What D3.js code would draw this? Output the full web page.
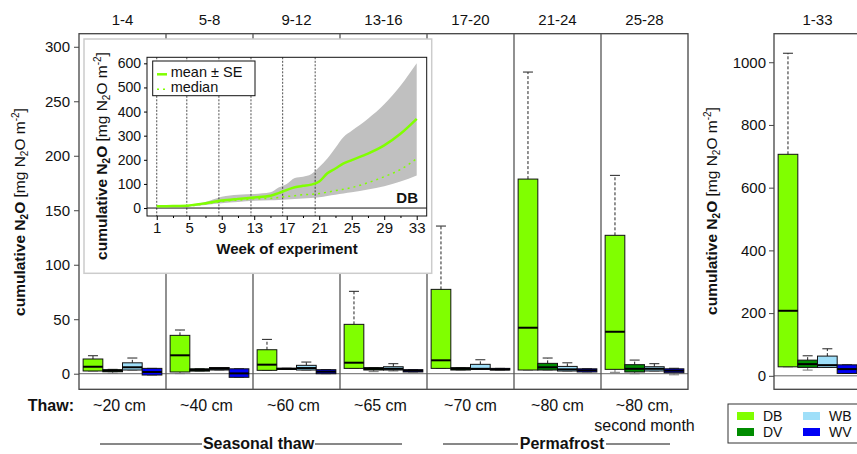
<!DOCTYPE html>
<html>
<head>
<meta charset="utf-8">
<script src="https://cdn.jsdelivr.net/npm/d3@7"></script>
<style>
  body { margin: 0; background: white; }
  text { font-family: "Liberation Sans", Arial, sans-serif; fill: #111; }
</style>
</head>
<body>
<div id="chart"></div>
<script>
// periods (weeks) and thaw depth
var periods = ["1-4", "5-8", "9-12", "13-16", "17-20", "21-24", "25-28"];
var thawLabels = [["~20 cm"], ["~40 cm"], ["~60 cm"], ["~65 cm"], ["~70 cm"], ["~80 cm"], ["~80 cm,", "second month"]];
var groups = ["DB", "DV", "WB", "WV"];

// box stats per period: [low whisker, q1, median, q3, high whisker]
var dbBoxes = [[2.5, 2.5, 6.4, 13.5, 16.5], [0.1, 1.6, 16.9, 35.2, 40.1], [3.1, 3.1, 8.3, 22, 31.5], [4.9, 4.9, 10.1, 45.3, 75.6],
               [4.9, 4.9, 12.3, 77.4, 135.5], [3.4, 3.4, 42.2, 178.6, 276.8], [1.3, 4, 38.5, 127, 182]];
var dvBoxes = [[0.4, 1.8, 2.8, 3.7, 4], [2.4, 2.4, 3.5, 4.5, 4.5], [4, 4, 4.5, 5, 5], [1.9, 3.4, 4.5, 5.6, 5.6],
               [3.4, 3.4, 4.5, 5.6, 5.6], [3.4, 3.4, 5.9, 9.5, 14.4], [0, 1.6, 4.5, 8.3, 12.5]];
var wbBoxes = [[3.4, 3.4, 5.9, 10, 14.4], [3.4, 3.4, 4.5, 5.7, 5.7], [3.4, 3.4, 5.2, 7.7, 10.7], [2.5, 3.4, 4.5, 6.4, 9.2],
               [4, 4, 4.5, 8.6, 12.8], [2.5, 2.5, 4, 6.7, 10], [2.5, 2.5, 4.5, 6.4, 9.2]];
var wvBoxes = [[-1.2, -1.2, 1.6, 4.9, 4.9], [-3.3, -3.3, 0.3, 4.5, 4.5], [0, 0, 1.9, 3.7, 3.7], [1.6, 1.6, 2.8, 3.7, 3.7],
               [3.4, 3.4, 4, 4.9, 4.9], [1.6, 1.6, 3.1, 4.5, 4.5], [-1, 0.9, 2.8, 4.5, 5]];
// whole experiment, weeks 1-33
var totalPeriod = "1-33";
var totalBoxes = [[28.7, 28.7, 207.4, 706.4, 1028.7], [18.2, 26.8, 37.3, 50, 63.8], [26.8, 26.8, 34, 62.9, 86.2], [7.6, 7.6, 21.4, 35, 35]];

var mainTicks = [0, 50, 100, 150, 200, 250, 300];
var totalTicks = [0, 200, 400, 600, 800, 1000];

// inset: DB time series
var weeks =    [1, 3, 5, 7, 9, 11, 13, 15, 16, 17, 18, 19, 20, 21, 22, 23, 24, 25, 27, 29, 31, 33];
var dbMean =   [7, 8, 11, 20, 31, 38, 44, 51, 62, 75, 86, 92, 97, 110, 144, 164, 185, 199, 226, 260, 308, 370];
var dbUpper =  [8, 10, 13, 25, 47, 55, 58, 65, 85, 100, 125, 130, 140, 170, 205, 250, 295, 320, 370, 430, 507, 600];
var dbLower =  [5, 6, 7, 13, 20, 25, 30, 32, 33, 35, 38, 40, 42, 45, 50, 55, 60, 65, 77, 90, 110, 135];
var dbMedian = [7, 8, 9, 18, 27, 33, 38, 40, 44, 48, 51, 55, 57, 60, 66, 72, 78, 85, 105, 130, 160, 205];
var periodStarts = [1, 4.7, 8.65, 12.6, 16.5, 20.5];
var weekTicks = [1, 5, 9, 13, 17, 21, 25, 29, 33];
var weekMinor = [3, 7, 11, 15, 19, 23, 27, 31];
var insetTicks = [0, 100, 200, 300, 400, 500, 600];

var colors = { DB: "#80ff00", DV: "#008c00", WB: "#9fdff9", WV: "#0000f5" };

var svg = d3.select("#chart").append("svg")
  .attr("width", 857)
  .attr("height", 454)
  .style("background", "white");

var plotTop = 33.7, plotBottom = 389.3;

var x = d3.scaleBand().domain(periods).range([79, 688]);
var xg = d3.scaleBand().domain(groups).range([0, x.bandwidth()]).paddingOuter(0.21);
var y = d3.scaleLinear().domain([-14.3, 312]).range([plotBottom, plotTop]);

var xt = d3.scaleBand().domain([totalPeriod]).range([774, 861]);
var yt = d3.scaleLinear().domain([-43, 1091]).range([plotBottom, plotTop]);

function drawBoxes(g, scaleX, scaleY, period, stats) {
  stats.forEach(function (s, i) {
    var grp = groups[i];
    var x0 = scaleX(period) + xg(grp), w = xg.bandwidth(), cx = x0 + w / 2;
    var b = g.append("g");
    // whiskers
    b.append("line").attr("x1", cx).attr("x2", cx).attr("y1", scaleY(s[3])).attr("y2", scaleY(s[4]))
      .attr("stroke", "#222").attr("stroke-dasharray", "3,2");
    b.append("line").attr("x1", cx).attr("x2", cx).attr("y1", scaleY(s[1])).attr("y2", scaleY(s[0]))
      .attr("stroke", "#777").attr("stroke-dasharray", "3,2");
    b.append("line").attr("x1", cx - 5).attr("x2", cx + 5).attr("y1", scaleY(s[4])).attr("y2", scaleY(s[4]))
      .attr("stroke", "#222");
    b.append("line").attr("x1", cx - 5).attr("x2", cx + 5).attr("y1", scaleY(s[0])).attr("y2", scaleY(s[0]))
      .attr("stroke", "#777");
    b.append("rect").attr("x", x0).attr("width", w)
      .attr("y", scaleY(s[3])).attr("height", Math.max(1, scaleY(s[1]) - scaleY(s[3])))
      .attr("fill", colors[grp]).attr("stroke", "#111").attr("stroke-width", 1);
    b.append("line").attr("x1", x0).attr("x2", x0 + w).attr("y1", scaleY(s[2])).attr("y2", scaleY(s[2]))
      .attr("stroke", "#000").attr("stroke-width", 2);
  });
}

function yLabel(g, tx, ty) {
  var t = g.append("text")
    .attr("transform", "translate(" + tx + "," + ty + ") rotate(-90)")
    .attr("text-anchor", "middle")
    .style("font-size", "15.5px");
  t.append("tspan").attr("font-weight", "bold").text("cumulative N");
  t.append("tspan").attr("font-weight", "bold").attr("dy", 3).style("font-size", "10px").text("2");
  t.append("tspan").attr("font-weight", "bold").attr("dy", -3).text("O");
  t.append("tspan").text(" [mg N");
  t.append("tspan").attr("dy", 3).style("font-size", "10px").text("2");
  t.append("tspan").attr("dy", -3).text("O m");
  t.append("tspan").attr("dy", -6).style("font-size", "10px").text("-2");
  t.append("tspan").attr("dy", 6).text("]");
}

// ---- main panel ----
var main = svg.append("g");

main.append("line").attr("x1", 79).attr("x2", 688).attr("y1", y(0)).attr("y2", y(0))
  .attr("stroke", "#666");

periods.forEach(function (p, i) {
  drawBoxes(main, x, y, p, [dbBoxes[i], dvBoxes[i], wbBoxes[i], wvBoxes[i]]);
});

main.append("rect").attr("x", 79).attr("y", plotTop).attr("width", 609).attr("height", plotBottom - plotTop)
  .attr("fill", "none").attr("stroke", "#444").attr("stroke-width", 1.3);
main.selectAll(".div").data(periods.slice(1)).enter().append("line")
  .attr("x1", function (d) { return x(d); }).attr("x2", function (d) { return x(d); })
  .attr("y1", plotTop).attr("y2", plotBottom)
  .attr("stroke", "#555").attr("stroke-width", 1.3);

var ax = main.append("g").attr("transform", "translate(79,0)")
  .call(d3.axisLeft(y).tickValues(mainTicks).tickSize(5).tickPadding(4));
ax.select(".domain").remove();
ax.selectAll("text").style("font-size", "15px");
ax.selectAll("line").attr("stroke", "#444");

main.selectAll(".ptitle").data(periods).enter().append("text")
  .attr("x", function (d) { return x(d) + x.bandwidth() / 2; })
  .attr("y", 25)
  .attr("text-anchor", "middle")
  .style("font-size", "15px")
  .text(function (d) { return d; });

yLabel(main, 25, 212);

// thaw depths
main.append("text").attr("x", 74).attr("y", 411).attr("text-anchor", "end")
  .attr("font-weight", "bold").style("font-size", "16px").text("Thaw:");
periods.forEach(function (p, i) {
  thawLabels[i].forEach(function (line, j) {
    main.append("text")
      .attr("x", x(p) + x.bandwidth() / 2 - (i < 4 ? 3 : 0))
      .attr("y", 411 + j * 19.5)
      .attr("text-anchor", "middle")
      .style("font-size", "16px")
      .text(line);
  });
});

function bracket(label, x1, x2, tx1, tx2, tc) {
  main.append("line").attr("x1", x1).attr("x2", tx1).attr("y1", 444).attr("y2", 444).attr("stroke", "#111");
  main.append("line").attr("x1", tx2).attr("x2", x2).attr("y1", 444).attr("y2", 444).attr("stroke", "#111");
  main.append("text").attr("x", tc).attr("y", 449).attr("text-anchor", "middle")
    .attr("font-weight", "bold").style("font-size", "16px").text(label);
}
bracket("Seasonal thaw", 100, 402, 202, 315, 258.5);
bracket("Permafrost", 443, 670, 518, 606, 562);

// ---- right panel, total ----
var tot = svg.append("g");
tot.append("line").attr("x1", 774).attr("x2", 861).attr("y1", yt(0)).attr("y2", yt(0)).attr("stroke", "#666");
drawBoxes(tot, xt, yt, totalPeriod, totalBoxes);
tot.append("rect").attr("x", 774).attr("y", plotTop).attr("width", 87).attr("height", plotBottom - plotTop)
  .attr("fill", "none").attr("stroke", "#444").attr("stroke-width", 1.3);
var axt = tot.append("g").attr("transform", "translate(774,0)")
  .call(d3.axisLeft(yt).tickValues(totalTicks).tickSize(5).tickPadding(3).tickFormat(d3.format("d")));
axt.select(".domain").remove();
axt.selectAll("text").style("font-size", "15px");
axt.selectAll("line").attr("stroke", "#444");
tot.append("text").attr("x", xt(totalPeriod) + xt.bandwidth() / 2).attr("y", 25)
  .attr("text-anchor", "middle").style("font-size", "15px").text(totalPeriod);
yLabel(tot, 717, 211);

// legend
var leg = svg.append("g");
leg.append("rect").attr("x", 728).attr("y", 404).attr("width", 140).attr("height", 39)
  .attr("fill", "white").attr("stroke", "#333");
groups.forEach(function (g, i) {
  var lx = 737 + Math.floor(i / 2) * 66, ly = 412 + (i % 2) * 16;
  leg.append("rect").attr("x", lx).attr("y", ly).attr("width", 17).attr("height", 8).attr("fill", colors[g]);
  leg.append("text").attr("x", lx + 26).attr("y", ly + 9).style("font-size", "14px").text(g);
});

// ---- inset ----
var inset = svg.append("g");
inset.append("rect").attr("x", 84).attr("y", 39).attr("width", 347.7).attr("height", 234.3)
  .attr("fill", "white").attr("stroke", "#ccc").attr("stroke-width", 1.5);

var ix = d3.scaleLinear().domain([-0.2, 34.23]).range([147, 426.7]);
var iy = d3.scaleLinear().domain([-33, 625]).range([216, 57.3]);

var series = weeks.map(function (w, i) {
  return { w: w, mean: dbMean[i], up: dbUpper[i], lo: dbLower[i], med: dbMedian[i] };
});

inset.append("path").datum(series)
  .attr("fill", "#c0c0c0")
  .attr("d", d3.area().curve(d3.curveMonotoneX)
    .x(function (d) { return ix(d.w); })
    .y0(function (d) { return iy(d.lo); })
    .y1(function (d) { return iy(d.up); }));

inset.selectAll(".pstart").data(periodStarts).enter().append("line")
  .attr("x1", function (d) { return ix(d); }).attr("x2", function (d) { return ix(d); })
  .attr("y1", 57.3).attr("y2", 216)
  .attr("stroke", "#222").attr("stroke-width", 0.8).attr("stroke-dasharray", "2,1.5");

inset.append("line").attr("x1", 147).attr("x2", 426.7).attr("y1", iy(0)).attr("y2", iy(0))
  .attr("stroke", "#111");

inset.append("path").datum(series)
  .attr("fill", "none").attr("stroke", colors.DB).attr("stroke-width", 1.5).attr("stroke-dasharray", "2,4")
  .attr("d", d3.line().curve(d3.curveMonotoneX)
    .x(function (d) { return ix(d.w); })
    .y(function (d) { return iy(d.med); }));

inset.append("path").datum(series)
  .attr("fill", "none").attr("stroke", colors.DB).attr("stroke-width", 2.5)
  .attr("d", d3.line().curve(d3.curveMonotoneX)
    .x(function (d) { return ix(d.w); })
    .y(function (d) { return iy(d.mean); }));

inset.append("rect").attr("x", 147).attr("y", 57.3).attr("width", 279.7).attr("height", 158.7)
  .attr("fill", "none").attr("stroke", "#111");

var iax = inset.append("g").attr("transform", "translate(147,0)")
  .call(d3.axisLeft(iy).tickValues(insetTicks).tickSize(3).tickPadding(3));
iax.select(".domain").remove();
iax.selectAll("text").style("font-size", "14px");

var ibx = inset.append("g").attr("transform", "translate(0,216)")
  .call(d3.axisBottom(ix).tickValues(weekTicks).tickSize(4).tickPadding(2));
ibx.select(".domain").remove();
ibx.selectAll("text").style("font-size", "15px");
inset.append("g").attr("transform", "translate(0,216)")
  .call(d3.axisBottom(ix).tickValues(weekMinor).tickSize(2).tickFormat(""))
  .select(".domain").remove();

inset.append("text").attr("x", 287).attr("y", 254).attr("text-anchor", "middle")
  .attr("font-weight", "bold").style("font-size", "15px").text("Week of experiment");

inset.append("text").attr("x", 418).attr("y", 203).attr("text-anchor", "end")
  .attr("font-weight", "bold").style("font-size", "15px").text("DB");

yLabel(inset, 107, 156);

var il = inset.append("g");
il.append("rect").attr("x", 152.7).attr("y", 61).attr("width", 102.3).attr("height", 34.7)
  .attr("fill", "white").attr("stroke", "#111");
il.append("line").attr("x1", 157).attr("x2", 167).attr("y1", 74.3).attr("y2", 74.3)
  .attr("stroke", colors.DB).attr("stroke-width", 2.5);
il.append("line").attr("x1", 157).attr("x2", 167).attr("y1", 89.3).attr("y2", 89.3)
  .attr("stroke", colors.DB).attr("stroke-width", 1.5).attr("stroke-dasharray", "2,4");
il.append("text").attr("x", 170.7).attr("y", 76.7).style("font-size", "14.5px").text("mean ± SE");
il.append("text").attr("x", 170.7).attr("y", 91.7).style("font-size", "14.5px").text("median");
</script>
</body>
</html>
